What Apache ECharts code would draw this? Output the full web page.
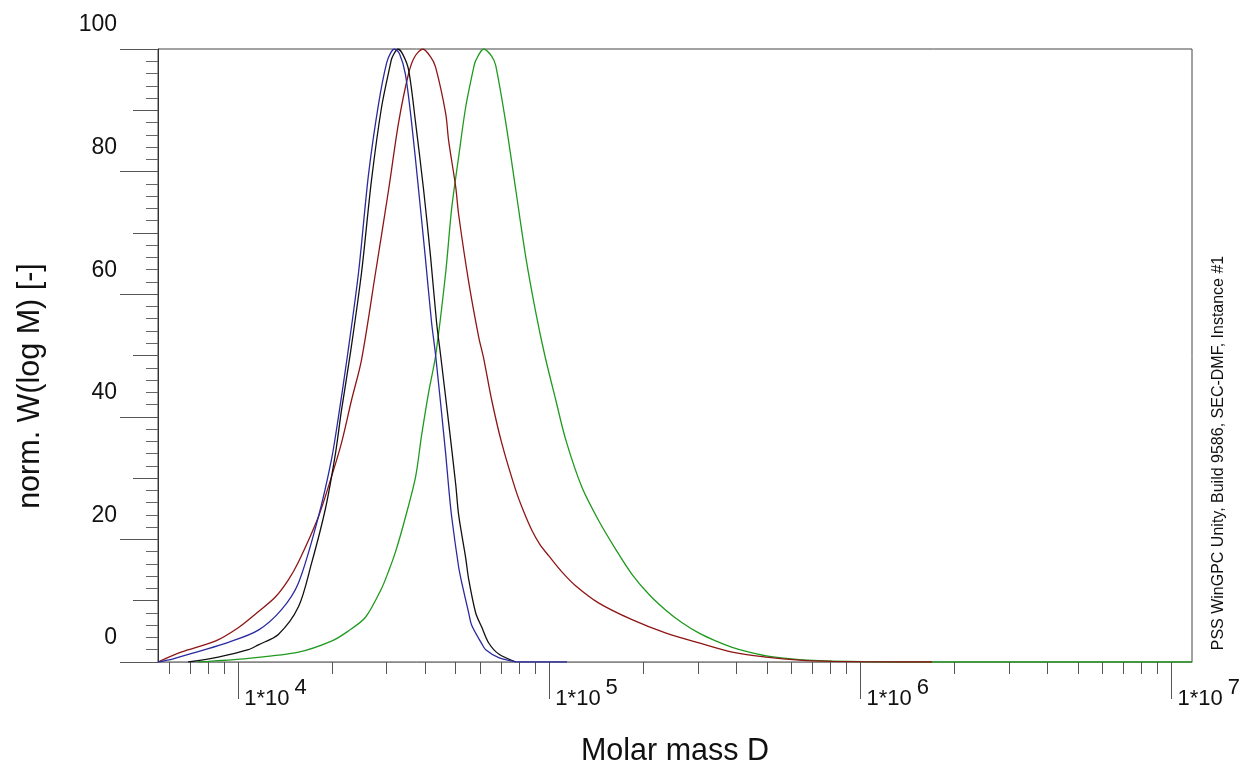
<!DOCTYPE html>
<html><head><meta charset="utf-8">
<script src="https://cdn.jsdelivr.net/npm/echarts@6/dist/echarts.min.js"></script>
<style>html,body{margin:0;padding:0;background:#fff}#c{width:1244px;height:770px}</style>
</head><body><div id="c"></div>
<script>
// Molar mass (D) and normalized W(log M)
const blueM = [5520, 6180, 7430, 9290, 11600, 13750, 15610, 18100, 19930, 20990, 22440, 24350, 26220, 28240, 29970, 30990, 31800, 33000, 34430, 36070, 37990, 39930, 41840, 43100, 46420, 47460, 48530, 51100, 52260, 55040, 56280, 60620, 62440, 68760, 76860, 80000, 114000];
const blueW = [0, 0.5, 1.7, 3.2, 5.2, 8.5, 12.9, 23.7, 33, 40, 50, 63.5, 79.5, 91, 97.7, 99.5, 100, 99.2, 96, 88, 77, 66, 55.3, 50, 34, 28.5, 23.7, 15.5, 13, 8, 6, 3, 2, 0.7, 0.1, 0, 0];

const blackM = [6900, 8620, 10770, 11600, 13450, 15610, 17180, 19060, 20530, 21460, 22950, 24900, 26810, 28880, 30880, 31220, 32600, 33740, 35280, 37150, 39430, 41530, 43420, 44730, 47460, 50000, 51100, 53830, 55040, 57980, 60620, 63850, 68760, 78010];
const blackW = [0, 0.8, 2, 2.8, 4.5, 9, 16, 25, 34, 41, 50.5, 63.5, 78.6, 90.5, 97.7, 98.6, 100, 99.2, 96.6, 88, 77, 66, 55.3, 50, 39, 29, 24, 17, 13.5, 8, 5.7, 3.1, 1.3, 0];

const redM = [5520, 6550, 8430, 10000, 11340, 13160, 14490, 15610, 18100, 19930, 21460, 23120, 24900, 27620, 30420, 32760, 35280, 36880, 39200, 41530, 43100, 46420, 47460, 50000, 51100, 55040, 59280, 61520, 65280, 70310, 78010, 82770, 87850, 93200, 99630, 109700, 121700, 144300, 184400, 237300, 303000, 387000, 498000, 636000, 812000, 1336000, 1700000];
const redW = [0, 1.6, 3.4, 5.6, 7.8, 10.6, 13.4, 16.3, 23.7, 30.2, 35.7, 42.7, 49.3, 63.5, 77, 88, 96, 98.7, 100, 98.7, 97, 89.5, 85, 77.5, 73, 62, 53, 49.5, 42.7, 35.7, 28, 24.5, 21.5, 19.2, 17.3, 14.7, 12.4, 9.6, 6.9, 4.7, 3.1, 1.6, 0.8, 0.3, 0.1, 0, 0];

const greenM = [7430, 10770, 15610, 19930, 22500, 25640, 28880, 30420, 32040, 34500, 37150, 38850, 40920, 43100, 46420, 48530, 51100, 53830, 57130, 57980, 61520, 65280, 67250, 72430, 78010, 84020, 90470, 96720, 104900, 113000, 127300, 144300, 163800, 184400, 209200, 237300, 267200, 303000, 343800, 387000, 439000, 498000, 636000, 922000, 1336000, 11640000];
const greenW = [0, 0.6, 1.6, 3.4, 5, 7.3, 12, 14.8, 18, 23.7, 30.2, 37, 44, 50, 63.5, 74, 82.4, 90.5, 97, 98.1, 100, 98.8, 97.3, 88, 77, 66, 57, 50, 42.7, 36.2, 28.5, 23, 18.3, 14.3, 11, 8.4, 6.4, 4.7, 3.4, 2.4, 1.6, 1.0, 0.4, 0.1, 0, 0];

// Axis ticks and labels
const xMin = 5520, xMax = 11640000;
const xDecades = [1e4, 1e5, 1e6, 1e7];
const xMinorTicks = [6000, 7000, 8000, 9000,
  20000, 30000, 40000, 50000, 60000, 70000, 80000, 90000,
  200000, 300000, 400000, 500000, 600000, 700000, 800000, 900000,
  2000000, 3000000, 4000000, 5000000, 6000000, 7000000, 8000000, 9000000];
const yMajor = [0, 20, 40, 60, 80, 100];
const yMid = [10, 30, 50, 70, 90];
const yMinorStep = 2;

const FONT = 'Liberation Sans, Arial, sans-serif';
const toPairs = (m, w) => m.map((v, i) => [v, w[i]]);

const chart = echarts.init(document.getElementById('c'), null, {renderer: 'canvas'});
const baseX = {type: 'log', logBase: 10, min: xMin, max: xMax, position: 'bottom', offset: 0, splitLine: {show: false}, minorTick: {show: false}};
const baseY = {type: 'value', min: 0, max: 100, position: 'left', offset: 0, splitLine: {show: false}};

chart.setOption({
  animation: false,
  backgroundColor: '#ffffff',
  grid: {left: 158, right: 52, top: 49, bottom: 108, outerBoundsMode: 'none', containLabel: false,
         show: true, borderColor: '#444', borderWidth: 1, backgroundColor: 'transparent'},
  xAxis: [
    Object.assign({}, baseX, {
      axisLine: {show: true, lineStyle: {color: '#888', width: 1}},
      axisTick: {show: true, inside: false, length: 12, customValues: xMinorTicks, lineStyle: {color: '#555'}},
      axisLabel: {show: false}
    }),
    Object.assign({}, baseX, {
      axisLine: {show: false},
      axisTick: {show: true, inside: false, length: 37, customValues: xDecades, lineStyle: {color: '#555'}},
      axisLabel: {
        show: true, customValues: xDecades, align: 'left', margin: 15,
        formatter: v => '{b|1*10}{e|' + Math.round(Math.log10(v)) + '}',
        rich: {
          b: {fontSize: 22, fontFamily: FONT, color: '#111', verticalAlign: 'bottom', padding: [0, 0, 0, 6]},
          e: {fontSize: 22, fontFamily: FONT, color: '#111', verticalAlign: 'bottom', padding: [0, 0, 11, 5]}
        }
      }
    })
  ],
  yAxis: [
    Object.assign({}, baseY, {
      interval: yMinorStep,
      axisLine: {show: true, lineStyle: {color: '#333'}},
      axisTick: {show: true, inside: false, length: 12, lineStyle: {color: '#666'}},
      axisLabel: {show: false}
    }),
    Object.assign({}, baseY, {
      axisLine: {show: false},
      axisTick: {show: true, inside: false, length: 25, customValues: yMid, lineStyle: {color: '#555'}},
      axisLabel: {show: false}
    }),
    Object.assign({}, baseY, {
      axisLine: {show: false},
      axisTick: {show: true, inside: false, length: 38, customValues: yMajor, lineStyle: {color: '#555'}},
      axisLabel: {
        show: true, customValues: yMajor, margin: 41, verticalAlign: 'middle',
        formatter: v => '{a|' + v + '}',
        rich: {a: {fontSize: 23, fontFamily: FONT, color: '#111', padding: [0, 0, 48, 0]}}
      }
    })
  ],
  graphic: [
    {type: 'text', x: 31, y: 386, rotation: Math.PI / 2,
     style: {text: 'norm. W(log M) [-]', fontSize: 30.5, fontFamily: FONT, fill: '#111', align: 'center', verticalAlign: 'middle'}},
    {type: 'text', x: 675, y: 752,
     style: {text: 'Molar mass D', fontSize: 30.5, fontFamily: FONT, fill: '#111', align: 'center', verticalAlign: 'middle'}},
    {type: 'text', x: 1219, y: 453, rotation: Math.PI / 2,
     style: {text: 'PSS WinGPC Unity, Build 9586, SEC-DMF, Instance #1', fontSize: 16, fontFamily: FONT, fill: '#111', align: 'center', verticalAlign: 'middle'}}
  ],
  series: [
    {name: 'green', type: 'line', xAxisIndex: 0, yAxisIndex: 0, data: toPairs(greenM, greenW), showSymbol: false, smooth: 0.3, lineStyle: {color: '#1f9a1f', width: 1.3}},
    {name: 'red', type: 'line', xAxisIndex: 0, yAxisIndex: 0, data: toPairs(redM, redW), showSymbol: false, smooth: 0.3, lineStyle: {color: '#8e1515', width: 1.3}},
    {name: 'black', type: 'line', xAxisIndex: 0, yAxisIndex: 0, data: toPairs(blackM, blackW), showSymbol: false, smooth: 0.3, lineStyle: {color: '#111111', width: 1.3}},
    {name: 'blue', type: 'line', xAxisIndex: 0, yAxisIndex: 0, data: toPairs(blueM, blueW), showSymbol: false, smooth: 0.3, lineStyle: {color: '#2a2aa0', width: 1.3}}
  ]
});
</script>
</body></html>
